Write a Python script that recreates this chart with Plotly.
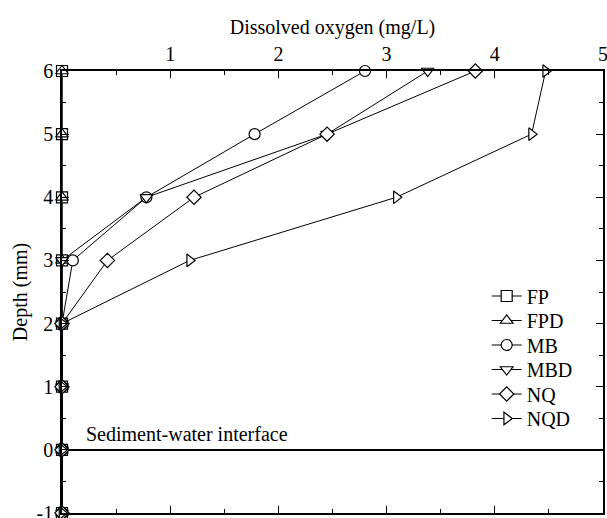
import plotly.graph_objects as go

depth = [-1, 0, 1, 2, 3, 4, 5, 6]
FP  = [0, 0, 0, 0, 0, 0, 0, 0]
FPD = [0, 0, 0, 0, 0, 0, 0, 0]
MB  = [0, 0, 0, 0, 0.10, 0.78, 1.78, 2.80]
MBD = [0, 0, 0, 0, 0, 0.78, 2.45, 3.38]
NQ  = [0, 0, 0, 0, 0.42, 1.22, 2.45, 3.82]
NQD = [0, 0, 0, 0, 1.18, 3.09, 4.34, 4.47]

x_ticks = [1, 2, 3, 4, 5]
y_ticks = [-1, 0, 1, 2, 3, 4, 5, 6]
y_tick_labels = ["-1", "0", "1", "2", "3", "4", "5", "6"]

series = [("FP", FP, "square"), ("FPD", FPD, "triangle-up"),
          ("MB", MB, "circle"), ("MBD", MBD, "triangle-down"),
          ("NQ", NQ, "diamond"), ("NQD", NQD, "triangle-right")]

FONT = "Liberation Serif, Times New Roman, serif"
FS = 20
fig = go.Figure()
legend_rows_px = [296, 320.5, 345, 369.5, 394, 418.5]
plot_top, plot_bot = 71, 513
legend_layout = {}
for i, (name, vals, sym) in enumerate(series):
    key = "legend" if i == 0 else f"legend{i+1}"
    fig.add_trace(go.Scatter(
        x=vals, y=depth, name=name, mode="lines+markers",
        line=dict(color="black", width=1),
        marker=dict(symbol=sym, size=11, color="white",
                    line=dict(color="black", width=1.2)),
        cliponaxis=False, legend=key))
    legend_layout[key] = dict(
        x=0.785, y=(plot_bot - legend_rows_px[i]) / (plot_bot - plot_top),
        xanchor="left", yanchor="middle", bgcolor="rgba(0,0,0,0)",
        font=dict(family=FONT, size=FS, color="black"))

fig.add_annotation(x=0.2, y=0.25, text="Sediment-water interface", showarrow=False,
                   xanchor="left", yanchor="middle", font=dict(family=FONT, size=FS, color="black"))

axis_common = dict(showgrid=False, showline=True, linecolor="black", linewidth=1.5,
                   ticks="inside", ticklen=7, tickcolor="black", tickwidth=1.2,
                   mirror="ticks", ticklabeloverflow="allow", automargin=False,
                   tickfont=dict(family=FONT, size=FS, color="black"))
fig.update_xaxes(range=[0, 5], side="top", zeroline=False,
                 title=dict(text="Dissolved oxygen (mg/L)", font=dict(family=FONT, size=FS, color="black"), standoff=3),
                 minor=dict(ticks="inside", ticklen=4, dtick=0.5, tickcolor="black", tickwidth=1),
                 tickvals=x_ticks, **axis_common)
fig.update_yaxes(range=[-1, 6], zeroline=True, zerolinecolor="black", zerolinewidth=1.5,
                 tickvals=y_ticks, ticktext=y_tick_labels, ticklabelstandoff=3,
                 title=dict(text="Depth (mm)", font=dict(family=FONT, size=FS, color="black"), standoff=4),
                 minor=dict(ticks="inside", ticklen=4, dtick=0.5, tickcolor="black", tickwidth=1),
                 **axis_common)

fig.update_layout(
    width=607, height=518, margin=dict(l=62, r=4, t=71, b=5),
    plot_bgcolor="white", paper_bgcolor="white",
    font=dict(family=FONT, size=FS, color="black"),
    showlegend=True, **legend_layout)

fig.write_html("out.html")
